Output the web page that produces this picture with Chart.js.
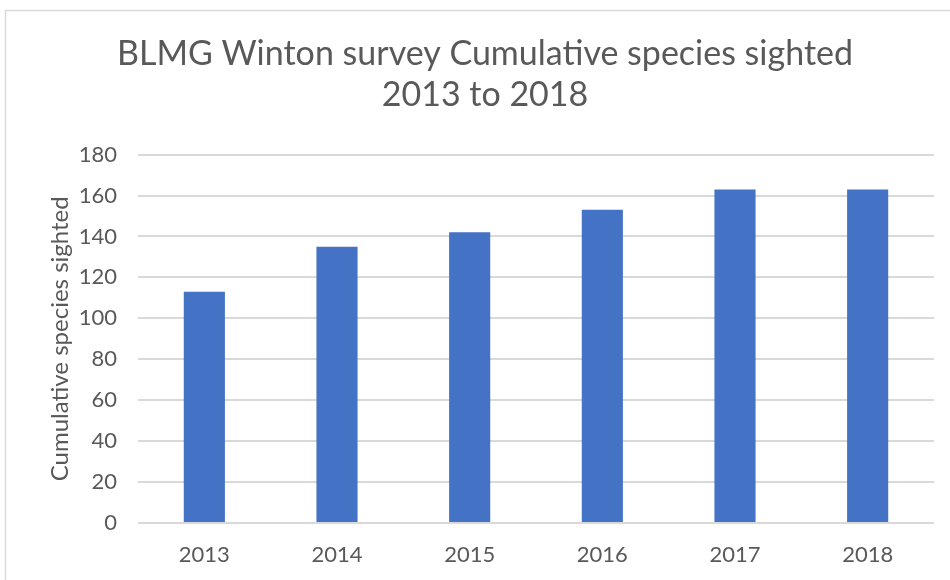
<!DOCTYPE html>
<html>
<head>
<meta charset="utf-8">
<title>BLMG Winton survey Cumulative species sighted 2013 to 2018</title>
<script src="https://cdn.jsdelivr.net/npm/chart.js@4/dist/chart.umd.min.js"></script>
<style>
  html, body { margin: 0; padding: 0; background: #ffffff; }
  #wrap { position: relative; width: 950px; height: 580px; }
</style>
</head>
<body>
<div id="wrap"><canvas id="chart" width="950" height="580"></canvas></div>
<script>
// Survey years and cumulative species totals
const years = ['2013', '2014', '2015', '2016', '2017', '2018'];
const cumulativeSpecies = [113, 135, 142, 153, 163, 163];
const titleLines = ['BLMG Winton survey Cumulative species sighted', '2013 to 2018'];
const yAxisTitle = 'Cumulative species sighted';

const TEXT = '#595959';
const GRID = '#d9d9d9';
const FONT = 'Lato, "Open Sans", "Liberation Sans", sans-serif';

// Light frame around the chart
const framePlugin = {
  id: 'frame',
  beforeDraw(chart) {
    const ctx = chart.ctx;
    ctx.save();
    ctx.fillStyle = '#ffffff';
    ctx.fillRect(0, 0, chart.width, chart.height);
    ctx.strokeStyle = GRID;
    ctx.lineWidth = 1.5;
    ctx.strokeRect(5.5, 10.5, chart.width + 20, chart.height + 20);
    ctx.restore();
  }
};

new Chart(document.getElementById('chart'), {
  type: 'bar',
  data: {
    labels: years,
    datasets: [{
      label: yAxisTitle,
      data: cumulativeSpecies,
      backgroundColor: '#4472C4',
      borderWidth: 0,
      barPercentage: 0.31,
      categoryPercentage: 1.0
    }]
  },
  options: {
    responsive: false,
    animation: false,
    devicePixelRatio: 1,
    layout: { padding: { left: 36, right: 16, top: 0, bottom: 0 } },
    plugins: {
      legend: { display: false },
      tooltip: { enabled: false },
      title: {
        display: true,
        text: titleLines,
        color: TEXT,
        font: { family: FONT, size: 34, weight: 'normal', lineHeight: 1.2 },
        padding: { top: 34, bottom: 39 }
      }
    },
    scales: {
      x: {
        grid: { display: false, drawTicks: false },
        border: { display: false },
        ticks: {
          color: TEXT,
          font: { family: FONT, size: 22 },
          padding: 19,
          maxRotation: 0
        },
        afterFit(scale) { scale.height = 57; }
      },
      y: {
        min: 0,
        max: 180,
        grid: { color: GRID, lineWidth: 2, drawTicks: false },
        border: { display: false },
        ticks: {
          stepSize: 20,
          color: TEXT,
          font: { family: FONT, size: 22 },
          padding: 21
        },
        title: {
          display: true,
          text: yAxisTitle,
          color: TEXT,
          font: { family: FONT, size: 24, lineHeight: 1.2 },
          padding: { top: 10, bottom: 0 }
        },
        afterFit(scale) { scale.width = 102; }
      }
    }
  },
  plugins: [framePlugin]
});
</script>
</body>
</html>
